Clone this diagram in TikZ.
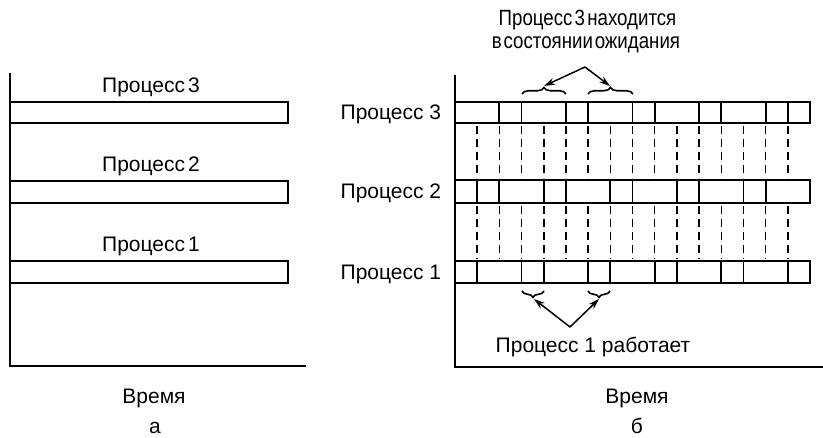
\documentclass[tikz,border=0pt]{standalone}
\usepackage{fontspec}
\usepackage{graphicx}
\setmainfont{Liberation Sans}
\usetikzlibrary{decorations.pathreplacing,arrows.meta}
\begin{document}
\begin{tikzpicture}[x=1pt,y=-1pt, line width=1.8pt,
  lbl/.style={font=\fontsize{21}{24}\selectfont, inner sep=0pt, anchor=base},
  axis/.style={line width=1.9pt},
  bar/.style={line width=1.9pt},
  divider/.style={line width=1.8pt},
  gridline/.style={line width=1.5pt, dash pattern=on 8pt off 5pt},
  arr/.style={line width=1.5pt, -{Stealth[length=11pt,width=7pt]}},
  brc/.style={decorate, decoration={brace, amplitude=6.5pt}, line width=1.6pt}]
\useasboundingbox (0,0) rectangle (823,438);
% ---------- part a ----------
\draw[axis] (10,73) -- (10,366) -- (306,366);
\draw[bar] (10,102) rectangle (288,123);
\draw[bar] (10,181) rectangle (288,203);
\draw[bar] (10,261) rectangle (288,283);
\node[lbl] (la3) at (151,92.3) {Процесс\hspace{3pt}3};
\node[lbl] (la2) at (151,171.3) {Процесс\hspace{3pt}2};
\node[lbl] (la1) at (151,251.3) {Процесс\hspace{3pt}1};
\node[lbl] (ta) at (154,403.3) {Время};
\node[lbl] (ca) at (155,433.5) {а};
% ---------- part b ----------
\draw[axis] (455,75) -- (455,367) -- (823,367);
\draw[bar] (455,102) rectangle (810,123);
\draw[bar] (455,180) rectangle (810,203);
\draw[bar] (455,261) rectangle (810,283);
\foreach \i in {2,3,5,6,8,9,11,12,14,15}
  \draw[divider] ({455+22.1875*\i},102) -- ({455+22.1875*\i},123);
\foreach \i in {1,2,4,5,7,8,10,11,13,14}
  \draw[divider] ({455+22.1875*\i},180) -- ({455+22.1875*\i},203);
\foreach \i in {1,3,4,6,7,9,10,12,13,15}
  \draw[divider] ({455+22.1875*\i},261) -- ({455+22.1875*\i},283);
\foreach \i in {1,...,15}{
  \draw[gridline] ({455+22.1875*\i},126) -- ({455+22.1875*\i},178);
  \draw[gridline] ({455+22.1875*\i},206) -- ({455+22.1875*\i},259);
}
\node[lbl, anchor=base east] (lb3) at (442,120) {Процесс 3};
\node[lbl, anchor=base east] (lb2) at (442,199) {Процесс 2};
\node[lbl, anchor=base east] (lb1) at (442,279.5) {Процесс 1};
% waiting annotation
\node[lbl] (wait1) at (587.5,26) {\scalebox{0.89}[1.05]{\spaceskip=2.5pt Процесс 3 находится}};
\node[lbl] (wait2) at (586,49) {\scalebox{0.89}[1.05]{\spaceskip=2pt в состоянии ожидания}};
\coordinate (apexT) at (585,67);
\draw[brc] (522,94) -- (566,94);
\draw[brc] (588,94) -- (633,94);
\coordinate (tipT1) at (544,86);
\coordinate (tipT2) at (610,86);
\draw[arr] (apexT) -- (tipT1);
\draw[arr] (apexT) -- (tipT2);
% running annotation
\draw[brc] (544,291) -- (522,291);
\draw[brc] (610,291) -- (588,291);
\coordinate (apexB) at (570,327);
\coordinate (tipB1) at (534,299);
\coordinate (tipB2) at (599,299);
\draw[arr] (apexB) -- (tipB1);
\draw[arr] (apexB) -- (tipB2);
\node[lbl] (run) at (593,353) {Процесс 1 работает};
\node[lbl] (tb) at (637,403.3) {Время};
\node[lbl] (cb) at (637,433.5) {б};
\end{tikzpicture}
\end{document}
